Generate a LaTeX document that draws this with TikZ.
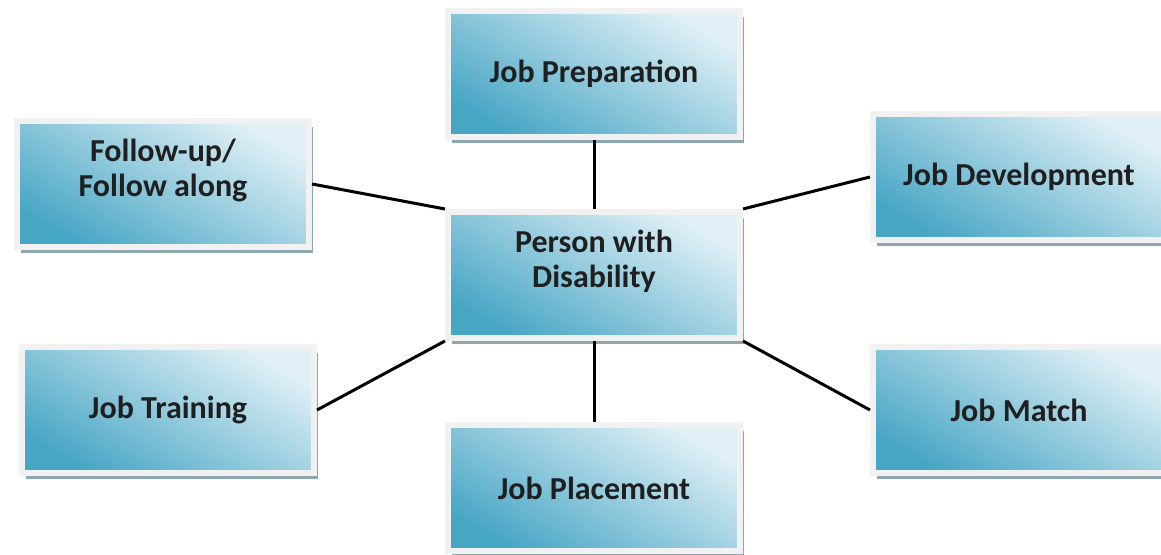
\documentclass[tikz,border=0pt]{standalone}
\usepackage{fontspec}
\setmainfont{Carlito}
\usetikzlibrary{shadows}
\definecolor{tealdark}{RGB}{72,166,197}
\definecolor{teallight}{RGB}{224,240,246}
\definecolor{framegray}{RGB}{241,241,241}
\definecolor{shadowgray}{RGB}{141,166,176}

\begin{document}
\begin{tikzpicture}[x = 1pt, y = 1pt,
    box/.style = {draw = framegray, line width = 6pt,
        bottom color = tealdark, top color = teallight, shading angle = -30,
        minimum width = 292pt, minimum height = 126pt,
        font = \fontsize{32}{35}\selectfont\bfseries, text = black!88, align = center,
        drop shadow = {shadow xshift = 4pt, shadow yshift = -6pt,
            fill = shadowgray, opacity = 1}},
    twoline/.style = {text depth = 32pt},
    link/.style = {line width = 3pt}]
    \useasboundingbox (0,0) rectangle (1161,554);
    \clip (0,0) rectangle (1161,554);
    \coordinate (P) at (594,480);
    \coordinate (F) at (163,370);
    \coordinate (D) at (1019,377);
    \coordinate (C) at (594,279);
    \coordinate (T) at (168,144);
    \coordinate (M) at (1019,144);
    \coordinate (L) at (594,66);
    \node (prep) at (P) [box] {Job Preparation};
    \node (fol) at (F) [box, twoline] {Follow-up/\\Follow along};
    \node (dev) at (D) [box] {Job Development};
    \node (pwd) at (C) [box, twoline] {Person with\\Disability};
    \node (train) at (T) [box] {Job Training};
    \node (match) at (M) [box] {Job Match};
    \node (place) at (L) [box] {Job Placement};
    \draw [link] (prep.south) -- (pwd.north);
    \draw [link] (fol.east) -- (pwd.north west);
    \draw [link] (dev.west) -- (pwd.north east);
    \draw [link] (train.east) -- (pwd.south west);
    \draw [link] (match.west) -- (pwd.south east);
    \draw [link] (pwd.south) -- (place.north);
\end{tikzpicture}
\end{document}
